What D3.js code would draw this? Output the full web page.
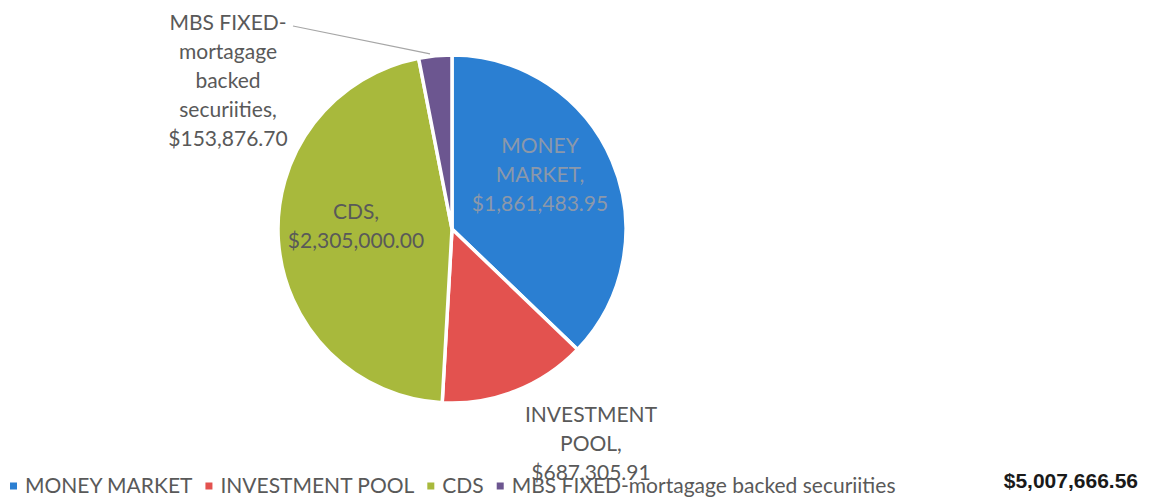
<!DOCTYPE html>
<html>
<head>
<meta charset="utf-8">
<script src="https://cdn.jsdelivr.net/npm/d3@7"></script>
<style>
  body { margin: 0; background: #fff; }
  svg { display: block; }
  text { font-family: Lato, "Open Sans", sans-serif; }
</style>
</head>
<body>
<div id="chart"></div>
<script>
const width = 1153, height = 500;

// data
const categories = ["MONEY MARKET", "INVESTMENT POOL", "CDS", "MBS FIXED-mortagage backed securiities"];
const amounts = [1861483.95, 687305.91, 2305000.00, 153876.70];
const colors = ["#2b7fd2", "#e3524f", "#a8b93c", "#6c5690"];
const labelLines = [
    ["MONEY", "MARKET,", "$1,861,483.95"],
    ["INVESTMENT", "POOL,", "$687,305.91"],
    ["CDS,", "$2,305,000.00"],
    ["MBS FIXED-", "mortagage", "backed", "securiities,", "$153,876.70"]
];
const totalLabel = "$5,007,666.56";

const cx = 452, cy = 229, radius = 174;
const lineHeight = 29;

const svg = d3.select("#chart").append("svg")
    .attr("width", width)
    .attr("height", height);

const pie = d3.pie().sort(null).value(d => d);
const arcs = pie(amounts);
const arc = d3.arc().innerRadius(0).outerRadius(radius);

const g = svg.append("g").attr("transform", `translate(${cx},${cy})`);

g.selectAll("path")
    .data(arcs)
    .enter().append("path")
    .attr("d", arc)
    .attr("fill", (d, i) => colors[i])
    .attr("stroke", "#fff")
    .attr("stroke-width", 3.5)
    .attr("stroke-linejoin", "round");

// label anchors (center of each text block), relative to pie center
const labelPos = [
    { x: 88, y: -54, fill: "#8b98aa" },
    { x: 139, y: 215, fill: "#595959" },
    { x: -96, y: -3, fill: "#595959" },
    { x: -224, y: -148, fill: "#595959" }
];

// leader line for the small MBS slice
const mbs = arcs[3];
const mid = (mbs.startAngle + mbs.endAngle) / 2;
g.append("line")
    .attr("x1", -159).attr("y1", -203)
    .attr("x2", Math.sin(mid) * (radius + 2) - 5)
    .attr("y2", -Math.cos(mid) * (radius + 2))
    .attr("stroke", "#a6a6a6")
    .attr("stroke-width", 1.2);

labelLines.forEach((lines, i) => {
    const p = labelPos[i];
    const top = p.y - (lines.length - 1) * lineHeight / 2;
    const t = g.append("text")
        .attr("text-anchor", "middle")
        .attr("font-size", 21)
        .attr("fill", p.fill);
    lines.forEach((ln, j) => {
        t.append("tspan")
            .attr("x", p.x)
            .attr("y", top + j * lineHeight)
            .attr("dy", "0.35em")
            .text(ln);
    });
});

// legend along the bottom
const legend = svg.append("g").attr("transform", "translate(10,486)");
let lx = 0;
categories.forEach((c, i) => {
    legend.append("rect")
        .attr("x", lx).attr("y", -3.5)
        .attr("width", 7).attr("height", 7)
        .attr("fill", colors[i]);
    const t = legend.append("text")
        .attr("x", lx + 15)
        .attr("dy", "0.35em")
        .attr("font-size", 21)
        .attr("fill", "#595959")
        .text(c);
    lx += 15 + t.node().getComputedTextLength() + 13;
});

// grand total, off to the right
svg.append("text")
    .attr("x", 1138)
    .attr("y", 481)
    .attr("dy", "0.35em")
    .attr("text-anchor", "end")
    .style("font-family", "'Liberation Sans', Arial, sans-serif")
    .style("font-weight", "bold")
    .attr("font-size", 21)
    .attr("fill", "#1a1a1a")
    .text(totalLabel);
</script>
</body>
</html>
